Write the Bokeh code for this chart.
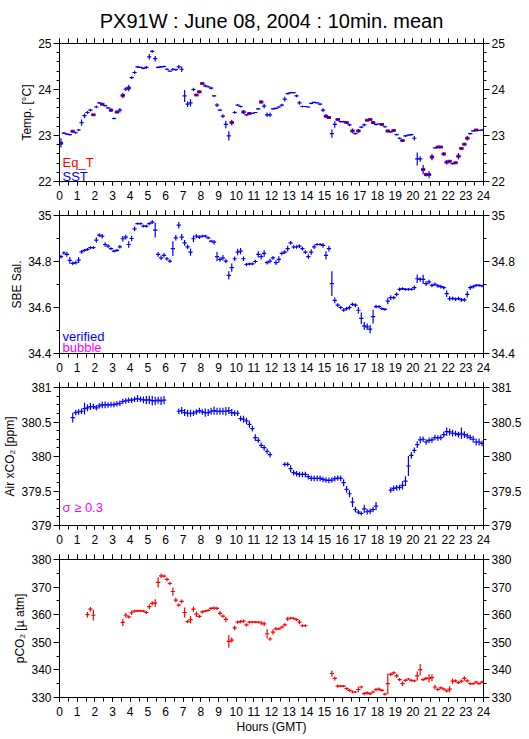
import numpy as np
from bokeh.plotting import figure
from bokeh.models import (Range1d, LinearAxis, FixedTicker, Label, CustomJSTickFormatter,
                          CustomLabelingPolicy, Grid)
from bokeh.layouts import column
from bokeh.embed import file_html
from bokeh.resources import INLINE

N = None
FONT = "Liberation Sans"

# ---- 10-minute slots over 24 hours (slot centres, hours GMT) ----
SLOTS = np.arange(144)
HOURS = (SLOTS + 0.5) / 6.0
HALF = 0.12  # half-width of each cross's horizontal bar (hours)

X_TICKS = list(range(25))

# ---- Panel 1: SST and Eq_T (deg C) ----
SST = [22.84, 23.05, 23.03, 23.02, 23.09, 23.06, 23.12, 23.28, 23.43, 23.50,
       23.55, 23.45, 23.62, 23.71, 23.68, 23.65, 23.60, 23.55, 23.37, 23.51,
       23.55, 23.87, 24.01, 24.03, 24.26, 24.37, 24.49, 24.48, 24.46, 24.48,
       24.71, 24.83, 24.67, 24.48, 24.49, 24.50, 24.44, 24.40, 24.44, 24.43,
       24.49, 24.44, 23.86, 23.68, 23.71, 24.00, 23.88, 23.95, 24.13, 24.08,
       24.06, 24.03, 23.86, 23.66, 23.55, 23.42, 23.24, 22.99, 23.28, 23.50,
       23.66, 23.63, 23.51, 23.45, 23.48, 23.48, 23.50, 23.58, 23.73, 23.64,
       23.45, 23.45, 23.58, 23.59, 23.62, 23.66, 23.79, 23.91, 23.93, 23.93,
       23.86, 23.71, 23.63, 23.63, 23.62, 23.70, 23.72, 23.71, 23.68, 23.55,
       23.42, 23.39, 23.04, 23.24, 23.35, 23.30, 23.30, 23.28, 23.23, 23.10,
       23.04, 23.10, 23.18, 23.23, 23.33, 23.35, 23.28, 23.24, 23.25, 23.24,
       23.19, 23.10, 23.08, 23.11, 23.02, 22.94, 22.89, 22.99, 23.01, 23.02,
       22.94, 22.49, 22.49, 22.26, 22.15, 22.15, 22.53, 22.73, 22.75, 22.75,
       22.60, 22.42, 22.44, 22.39, 22.41, 22.55, 22.72, 22.81, 22.94, 23.04,
       23.10, 23.12, 23.11, 23.12]
SST_STD = [0.10, 0.02, 0.02, 0.02, 0.02, 0.02, 0.02, 0.07, 0.05, 0.03,
           0.03, 0.02, 0.03, 0.02, 0.02, 0.02, 0.02, 0.04, 0.02, 0.03,
           0.05, 0.06, 0.04, 0.07, 0.03, 0.04, 0.02, 0.01, 0.02, 0.03,
           0.06, 0.03, 0.06, 0.02, 0.02, 0.02, 0.02, 0.01, 0.03, 0.02,
           0.04, 0.06, 0.13, 0.06, 0.08, 0.04, 0.02, 0.03, 0.02, 0.03,
           0.02, 0.03, 0.02, 0.04, 0.02, 0.04, 0.08, 0.10, 0.06, 0.03,
           0.02, 0.02, 0.04, 0.02, 0.02, 0.01, 0.01, 0.02, 0.04, 0.05,
           0.05, 0.05, 0.02, 0.02, 0.02, 0.03, 0.05, 0.02, 0.01, 0.01,
           0.03, 0.04, 0.02, 0.01, 0.01, 0.02, 0.01, 0.01, 0.02, 0.04,
           0.04, 0.03, 0.09, 0.07, 0.03, 0.02, 0.02, 0.02, 0.03, 0.05,
           0.02, 0.04, 0.02, 0.03, 0.02, 0.02, 0.03, 0.02, 0.01, 0.02,
           0.02, 0.03, 0.02, 0.02, 0.02, 0.02, 0.03, 0.02, 0.01, 0.02,
           0.05, 0.14, 0.06, 0.10, 0.04, 0.08, 0.07, 0.01, 0.02, 0.02,
           0.04, 0.05, 0.03, 0.02, 0.02, 0.07, 0.03, 0.03, 0.05, 0.02,
           0.02, 0.02, 0.01, 0.02]
EQT_SLOT = [0, 4, 11, 14, 17, 19, 21, 23, 46, 47, 48, 58, 62, 64, 68,
            90, 91, 94, 97, 99, 101, 104, 105, 106, 109, 111, 113, 116,
            123, 124, 125, 126, 128, 129, 130, 131, 132, 134, 135, 136,
            137, 138, 141]
EQT = [22.83, 23.09, 23.45, 23.68, 23.55, 23.51, 23.87, 24.03, 23.88, 23.95,
       24.13, 23.28, 23.51, 23.48, 23.73, 23.42, 23.39, 23.35, 23.28, 23.10,
       23.10, 23.33, 23.35, 23.28, 23.24, 23.10, 23.11, 22.89, 22.26, 22.15,
       22.15, 22.53, 22.75, 22.75, 22.60, 22.42, 22.44, 22.41, 22.55, 22.72,
       22.81, 22.94, 23.12]

# ---- Panel 2: SBE salinity ----
SAL = [34.821, 34.837, 34.831, 34.805, 34.792, 34.795, 34.806, 34.842, 34.848, 34.853,
       34.860, 34.860, 34.893, 34.915, 34.910, 34.874, 34.867, 34.856, 34.845, 34.848,
       34.864, 34.899, 34.906, 34.874, 34.900, 34.942, 34.965, 34.965, 34.954, 34.954,
       34.965, 34.971, 34.936, 34.831, 34.816, 34.827, 34.812, 34.802, 34.856, 34.903,
       34.958, 34.906, 34.881, 34.864, 34.841, 34.899, 34.910, 34.906, 34.910, 34.910,
       34.903, 34.889, 34.884, 34.821, 34.809, 34.816, 34.802, 34.740, 34.773, 34.812,
       34.841, 34.845, 34.812, 34.787, 34.790, 34.790, 34.800, 34.831, 34.821, 34.835,
       34.795, 34.802, 34.816, 34.795, 34.809, 34.835, 34.841, 34.856, 34.881, 34.863,
       34.863, 34.867, 34.856, 34.841, 34.821, 34.841, 34.864, 34.874, 34.874, 34.870,
       34.827, 34.856, 34.704, 34.631, 34.610, 34.600, 34.589, 34.595, 34.600, 34.614,
       34.610, 34.588, 34.553, 34.520, 34.516, 34.506, 34.560, 34.604, 34.604, 34.595,
       34.592, 34.628, 34.643, 34.643, 34.657, 34.679, 34.682, 34.679, 34.679, 34.679,
       34.686, 34.725, 34.722, 34.722, 34.704, 34.711, 34.696, 34.701, 34.694, 34.691,
       34.686, 34.660, 34.639, 34.640, 34.636, 34.639, 34.633, 34.633, 34.657, 34.686,
       34.691, 34.696, 34.696, 34.694]
SAL_STD = [.008, .008, .010, .015, .008, .008, .012, .008, .006, .006,
           .006, .006, .012, .008, .010, .010, .008, .006, .006, .006,
           .008, .012, .010, .014, .012, .010, .005, .005, .006, .006,
           .006, .008, .032, .010, .010, .010, .008, .008, .032, .012,
           .014, .014, .012, .010, .016, .014, .008, .008, .006, .006,
           .006, .006, .010, .020, .010, .012, .010, .018, .018, .010,
           .014, .014, .010, .008, .006, .006, .008, .014, .012, .014,
           .008, .010, .008, .010, .014, .008, .008, .012, .008, .008,
           .008, .008, .008, .008, .010, .012, .010, .006, .006, .010,
           .018, .012, .054, .012, .008, .008, .008, .008, .010, .008,
           .008, .014, .025, .017, .014, .018, .030, .008, .006, .006,
           .006, .014, .010, .008, .008, .008, .006, .006, .006, .006,
           .010, .018, .010, .020, .010, .010, .008, .008, .008, .008,
           .008, .014, .010, .008, .008, .008, .008, .008, .014, .010,
           .008, .006, .006, .006]

# ---- Panel 3: Air xCO2 (ppm) ----
XCO2 = [N, N, N, N, 380.564, 380.637, 380.646, 380.656, 380.695, 380.705,
        380.724, 380.724, 380.705, 380.734, 380.748, 380.748, 380.748, 380.753, 380.753, 380.763,
        380.772, 380.797, 380.806, 380.816, 380.816, 380.830, 380.840, 380.830, 380.820, 380.816,
        380.820, 380.810, 380.806, 380.816, 380.806, 380.816, N, N, N, N,
        380.656, 380.666, 380.637, 380.627, 380.627, 380.627, 380.646, 380.666, 380.646, 380.637,
        380.637, 380.656, 380.666, 380.656, 380.656, 380.656, 380.656, 380.666, 380.637, 380.627,
        380.627, 380.550, 380.540, 380.516, 380.467, 380.404, 380.274, 380.235, 380.162, 380.128,
        380.075, 380.027, N, N, N, N, 379.886, 379.886, 379.823, 379.765,
        379.751, 379.740, 379.740, 379.740, 379.707, 379.683, 379.683, 379.683, 379.683, 379.668,
        379.659, 379.654, 379.659, 379.678, 379.688, 379.683, 379.620, 379.523, 379.460, 379.339,
        379.232, 379.194, 379.174, 379.242, 379.199, 379.208, 379.232, 379.281, N, N,
        N, N, 379.513, 379.538, 379.547, 379.552, 379.581, 379.644, 379.862, 380.017,
        380.090, 380.172, 380.240, 380.250, 380.210, 380.235, 380.240, 380.274, 380.269, 380.274,
        380.317, 380.360, 380.356, 380.337, 380.332, 380.317, 380.337, 380.317, 380.298, 380.274,
        380.250, 380.210, 380.210, 380.190]
XCO2_STD = [0, 0, 0, 0, .07, .04, .04, .04, .085, .05,
            .05, .04, .04, .04, .05, .05, .04, .04, .04, .04,
            .04, .04, .04, .04, .04, .04, .05, .04, .05, .06,
            .06, .07, .06, .05, .06, .06, 0, 0, 0, 0,
            .04, .05, .05, .05, .05, .04, .04, .04, .04, .06,
            .05, .05, .06, .05, .05, .05, .06, .05, .05, .04,
            .04, .04, .05, .05, .05, .04, .05, .04, .04, .04,
            .04, .04, 0, 0, 0, 0, .03, .03, .05, .04,
            .04, .04, .04, .04, .04, .04, .04, .04, .04, .04,
            .04, .04, .04, .04, .04, .04, .05, .05, .05, .07,
            .04, .03, .03, .06, .04, .04, .04, .06, 0, 0,
            0, 0, .04, .04, .04, .04, .06, .07, .145, .05,
            .04, .05, .05, .04, .04, .04, .04, .04, .04, .04,
            .04, .06, .05, .05, .04, .04, .085, .05, .04, .04,
            .05, .05, .05, .04]

# ---- Panel 4: pCO2 (micro atm) ----
PCO2 = [N, N, N, N, N, N, N, N, N, 360.0,
        362.0, 359.8, N, N, N, N, N, N, N, N,
        N, 357.2, 359.8, 359.2, 360.7, 361.3, 361.4, 361.4, 361.3, 360.8,
        362.9, 364.1, 364.2, 371.7, 374.1, 374.0, 372.8, 371.3, 368.4, 365.3,
        363.5, 364.8, 360.8, 357.5, 358.2, 362.0, 360.2, 359.4, 361.0, 361.3,
        361.6, 362.3, 362.4, 362.3, 360.5, 359.5, 358.3, 350.3, 350.8, 355.2,
        357.3, 357.5, 357.7, 356.3, 357.3, 357.3, 357.3, 357.3, 357.0, 356.7,
        353.1, 351.2, 353.7, 354.9, 354.9, 355.5, 356.3, 358.5, 358.8, 358.7,
        358.2, 357.3, 356.0, 356.0, N, N, N, N, N, N,
        N, N, 338.7, 336.9, 334.1, 334.1, 334.1, 333.2, 332.6, 332.0,
        332.0, 332.9, 333.8, 331.4, 331.7, 331.4, 332.0, 332.9, 333.0, 332.6,
        331.2, 335.0, 338.4, 338.9, 337.8, 336.5, 335.0, 336.2, 336.7, 336.2,
        336.0, 337.8, 340.1, 336.5, 336.9, 336.9, 337.2, 333.8, 332.9, 333.5,
        333.0, 332.4, 333.0, 335.9, 336.0, 335.4, 335.9, 336.9, 336.0, 335.0,
        335.0, 335.6, 335.0, 335.6]
PCO2_STD = [0, 0, 0, 0, 0, 0, 0, 0, 0, 1.0,
            0.8, 1.9, 0, 0, 0, 0, 0, 0, 0, 0,
            0, 1.3, 0.8, 0.6, 0.8, 0.5, 0.4, 0.4, 0.4, 0.5,
            0.9, 0.8, 1.4, 1.8, 0.8, 0.6, 0.7, 0.6, 1.5, 0.8,
            0.6, 0.7, 1.8, 0.6, 1.3, 1.0, 1.0, 0.6, 0.6, 0.4,
            0.4, 0.5, 0.6, 0.6, 0.8, 0.6, 1.0, 2.3, 0.9, 0.8,
            0.6, 0.6, 0.6, 0.6, 0.5, 0.4, 0.4, 0.4, 0.7, 0.8,
            1.6, 0.6, 1.0, 0.6, 0.5, 0.5, 0.6, 0.8, 0.5, 0.4,
            0.5, 0.8, 0.5, 0.5, 0, 0, 0, 0, 0, 0,
            0, 0, 1.1, 0.7, 0.6, 0.4, 0.4, 0.5, 0.5, 0.5,
            0.4, 1.0, 0.5, 0.6, 0.6, 0.5, 0.5, 0.6, 0.6, 0.5,
            0.5, 3.7, 0.6, 0.6, 0.7, 0.6, 0.8, 0.5, 0.4, 0.5,
            0.5, 1.6, 2.0, 0.5, 0.6, 1.5, 1.2, 0.8, 0.6, 0.5,
            0.5, 0.6, 1.1, 1.0, 0.6, 0.5, 0.6, 0.8, 0.6, 0.5,
            0.4, 0.5, 0.4, 0.5]

FMT = CustomJSTickFormatter(code="return tick.toString();")


def style_axis(ax, tick_out, minor_out, standoff):
    ax.axis_line_color = "black"
    ax.major_tick_line_color = "black"
    ax.minor_tick_line_color = "black"
    ax.major_tick_in = 0
    ax.minor_tick_in = 0
    ax.major_tick_out = tick_out
    ax.minor_tick_out = minor_out
    ax.major_label_text_font = FONT
    ax.major_label_text_font_size = "12px"
    ax.major_label_text_color = "black"
    ax.major_label_standoff = standoff
    ax.axis_label_text_font = FONT
    ax.axis_label_text_font_size = "12px"
    ax.axis_label_text_font_style = "normal"
    ax.axis_label_text_color = "black"
    ax.axis_label_standoff = 1


def make_panel(yr, yticks, lminor, rminor, ylabel, top, bottom, xlabel=None, title=None):
    p = figure(frame_width=424, frame_height=138,
               x_range=Range1d(0, 24), y_range=Range1d(*yr),
               x_axis_location=None, y_axis_location=None,
               toolbar_location=None, output_backend="svg",
               min_border_left=53, min_border_right=44,
               min_border_top=top, min_border_bottom=bottom)
    p.center = [r for r in p.center if not isinstance(r, Grid)]
    if title:
        p.title.text = title
        p.title.align = "center"
        p.title.text_font = FONT
        p.title.text_font_size = "20px"
        p.title.text_font_style = "normal"
        p.title.text_color = "black"
        p.title.standoff = 14
    xt = FixedTicker(ticks=X_TICKS, minor_ticks=list(np.arange(0, 24.01, 0.5)))
    bax = LinearAxis(ticker=xt, formatter=FMT)
    style_axis(bax, 4, 4, 5)
    if xlabel:
        bax.axis_label = xlabel
    p.add_layout(bax, "below")
    tax = LinearAxis(ticker=xt, formatter=FMT,
                     major_label_policy=CustomLabelingPolicy(code="return new Set()"))
    style_axis(tax, 5, 5, 0)
    tax.major_label_text_font_size = "0px"
    p.add_layout(tax, "above")
    lax = LinearAxis(ticker=FixedTicker(ticks=yticks, minor_ticks=lminor), formatter=FMT,
                     axis_label=ylabel)
    style_axis(lax, 6, 3, 2)
    p.add_layout(lax, "left")
    rax = LinearAxis(ticker=FixedTicker(ticks=yticks, minor_ticks=rminor), formatter=FMT)
    style_axis(rax, 6, 3, 2)
    p.add_layout(rax, "right")
    p.outline_line_color = "black"
    p.background_fill_color = "white"
    p.border_fill_color = "white"
    return p


def crosses(p, vals, stds, color, width=1.2):
    v = np.array(vals, dtype=float)
    s = np.array(stds, dtype=float)
    m = ~np.isnan(v)
    t, v, s = HOURS[m], v[m], s[m]
    p.segment(x0=t - HALF, x1=t + HALF, y0=v, y1=v, line_color=color, line_width=width)
    p.segment(x0=t, x1=t, y0=v - s, y1=v + s, line_color=color, line_width=width)


def label(p, x, y, text, color):
    p.add_layout(Label(x=x, y=y, text=text, text_color=color, text_font=FONT,
                       text_font_size="13px", text_baseline="alphabetic"))


# Panel 1
p1 = make_panel((22, 25), [22, 23, 24, 25], list(np.arange(22, 25.01, 0.2)),
                list(np.arange(22, 25.01, 0.2)), "Temp. [°C]", 36, 24,
                title="PX91W : June 08, 2004 : 10min. mean")
eh = HOURS[np.array(EQT_SLOT)]
p1.segment(x0=eh - HALF, x1=eh + HALF, y0=EQT, y1=EQT, line_color="red", line_width=3)
crosses(p1, SST, SST_STD, "blue")
label(p1, 0.17, 22.41, "Eq_T", "red")
label(p1, 0.17, 22.11, "SST", "blue")

# Panel 2
p2 = make_panel((34.4, 35.0), [34.4, 34.6, 34.8, 35.0], list(np.arange(34.4, 35.001, 0.1)),
                list(np.arange(34.4, 35.001, 0.1)), "SBE Sal.", 10, 24)
crosses(p2, SAL, SAL_STD, "blue")
label(p2, 0.17, 34.476, "verified", "blue")
label(p2, 0.17, 34.424, "bubble", "magenta")

# Panel 3
p3 = make_panel((379, 381), [379, 379.5, 380, 380.5, 381], list(np.arange(379, 381.001, 0.125)),
                list(np.arange(379, 381.001, 0.25)), "Air xCO₂ [ppm]", 10, 24)
crosses(p3, XCO2, XCO2_STD, "blue")
label(p3, 0.17, 379.26, "σ ≥ 0.3", "magenta")

# Panel 4
p4 = make_panel((330, 380), [330, 340, 350, 360, 370, 380], list(np.arange(330, 380.1, 5)),
                list(np.arange(330, 380.1, 5)), "pCO₂ [µ atm]", 10, 33, xlabel="Hours (GMT)")
crosses(p4, PCO2, PCO2_STD, "red")

layout = column(p1, p2, p3, p4, spacing=0)
open("out.html", "w").write(file_html(layout, INLINE))
